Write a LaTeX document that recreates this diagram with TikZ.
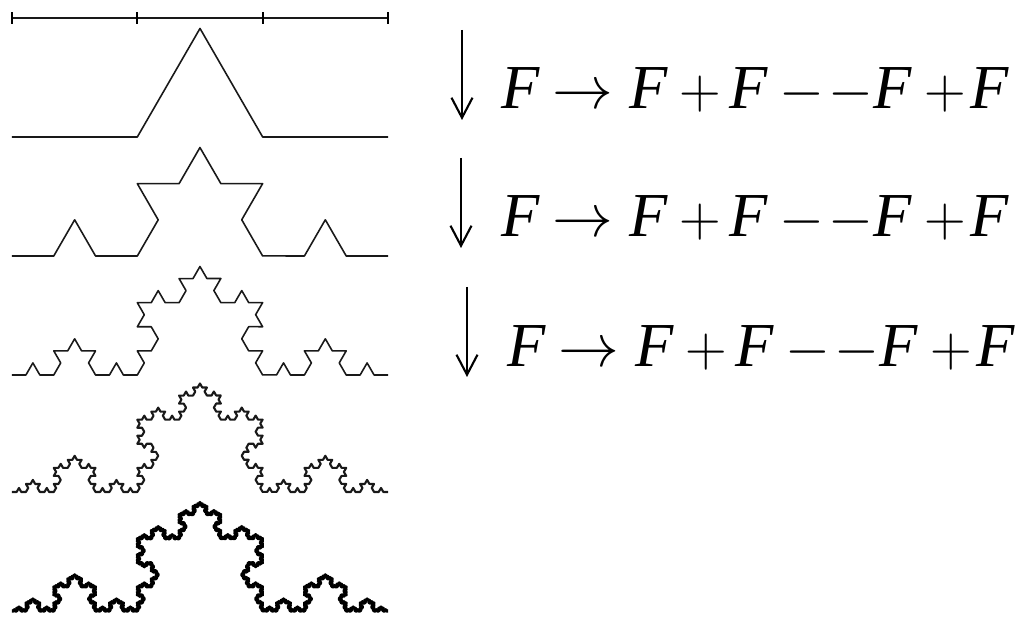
\documentclass[tikz,border=0pt]{standalone}
\usepackage{fontspec}
\setmainfont{Liberation Serif}
\usetikzlibrary{arrows.meta, decorations.fractals}

\newcommand{\Fv}{\textit{F}}
\newcommand{\Pl}{\scalebox{0.95}{$+$}}
\newcommand{\Mi}{\scalebox{0.95}{$-$}}
\newcommand{\kochrule}{\Fv\hspace{0.2em}$\rightarrow$\hspace{0.26em}\Fv\hspace{0.17em}\Pl\hspace{0.14em}\Fv\hspace{0.18em}\Mi\hspace{0.06em}\Mi\Fv\hspace{0.2em}\Pl\hspace{0.08em}\Fv}

\begin{document}
\begin{tikzpicture}[
  decoration=Koch snowflake,
  koch/.style={line width=0.45pt, line join=round, draw=black!90},
  tick/.style={line width=0.5pt},
  rule/.style={font=\fontsize{17.8}{20}\selectfont, anchor=base west, inner sep=0pt},
  down/.style={line width=0.6pt, -{Straight Barb[length=2mm, width=2.1mm]}}
]
\useasboundingbox (0,0) rectangle (10.18,6.18);

% Level 0: the segment cut in thirds
\coordinate (s0) at (0.12,6.00);
\coordinate (s1) at (3.88,6.00);
\draw[koch] (s0) -- (s1);
\foreach \x in {0.12,1.37,2.63,3.88}
  \draw[tick] (\x,5.94) -- (\x,6.06);

% Levels 1 to 5
\draw[koch] decorate{ (0.12,4.81) -- (3.88,4.81) };
\draw[koch] decorate{ decorate{ (0.12,3.62) -- (3.88,3.62) }};
\draw[koch] decorate{ decorate{ decorate{ (0.12,2.43) -- (3.88,2.43) }}};
\draw[koch, line width=0.6pt]
  decorate{ decorate{ decorate{ decorate{ (0.12,1.26) -- (3.88,1.26) }}}};
\draw[koch, line width=0.9pt, draw=black]
  decorate{ decorate{ decorate{ decorate{ decorate{ (0.12,0.07) -- (3.88,0.07) }}}}};

% Rewriting rule, once per step
\coordinate (a1) at (4.62,5.88);
\coordinate (b1) at (4.62,4.98);
\coordinate (a2) at (4.61,4.60);
\coordinate (b2) at (4.61,3.70);
\coordinate (a3) at (4.67,3.31);
\coordinate (b3) at (4.67,2.41);

\draw[down] (a1) -- (b1);
\draw[down] (a2) -- (b2);
\draw[down] (a3) -- (b3);

\node[rule] (r1) at (5.01,5.09) {\kochrule};
\node[rule] (r2) at (5.01,3.81) {\kochrule};
\node[rule] (r3) at (5.07,2.51) {\kochrule};

\end{tikzpicture}
\end{document}
